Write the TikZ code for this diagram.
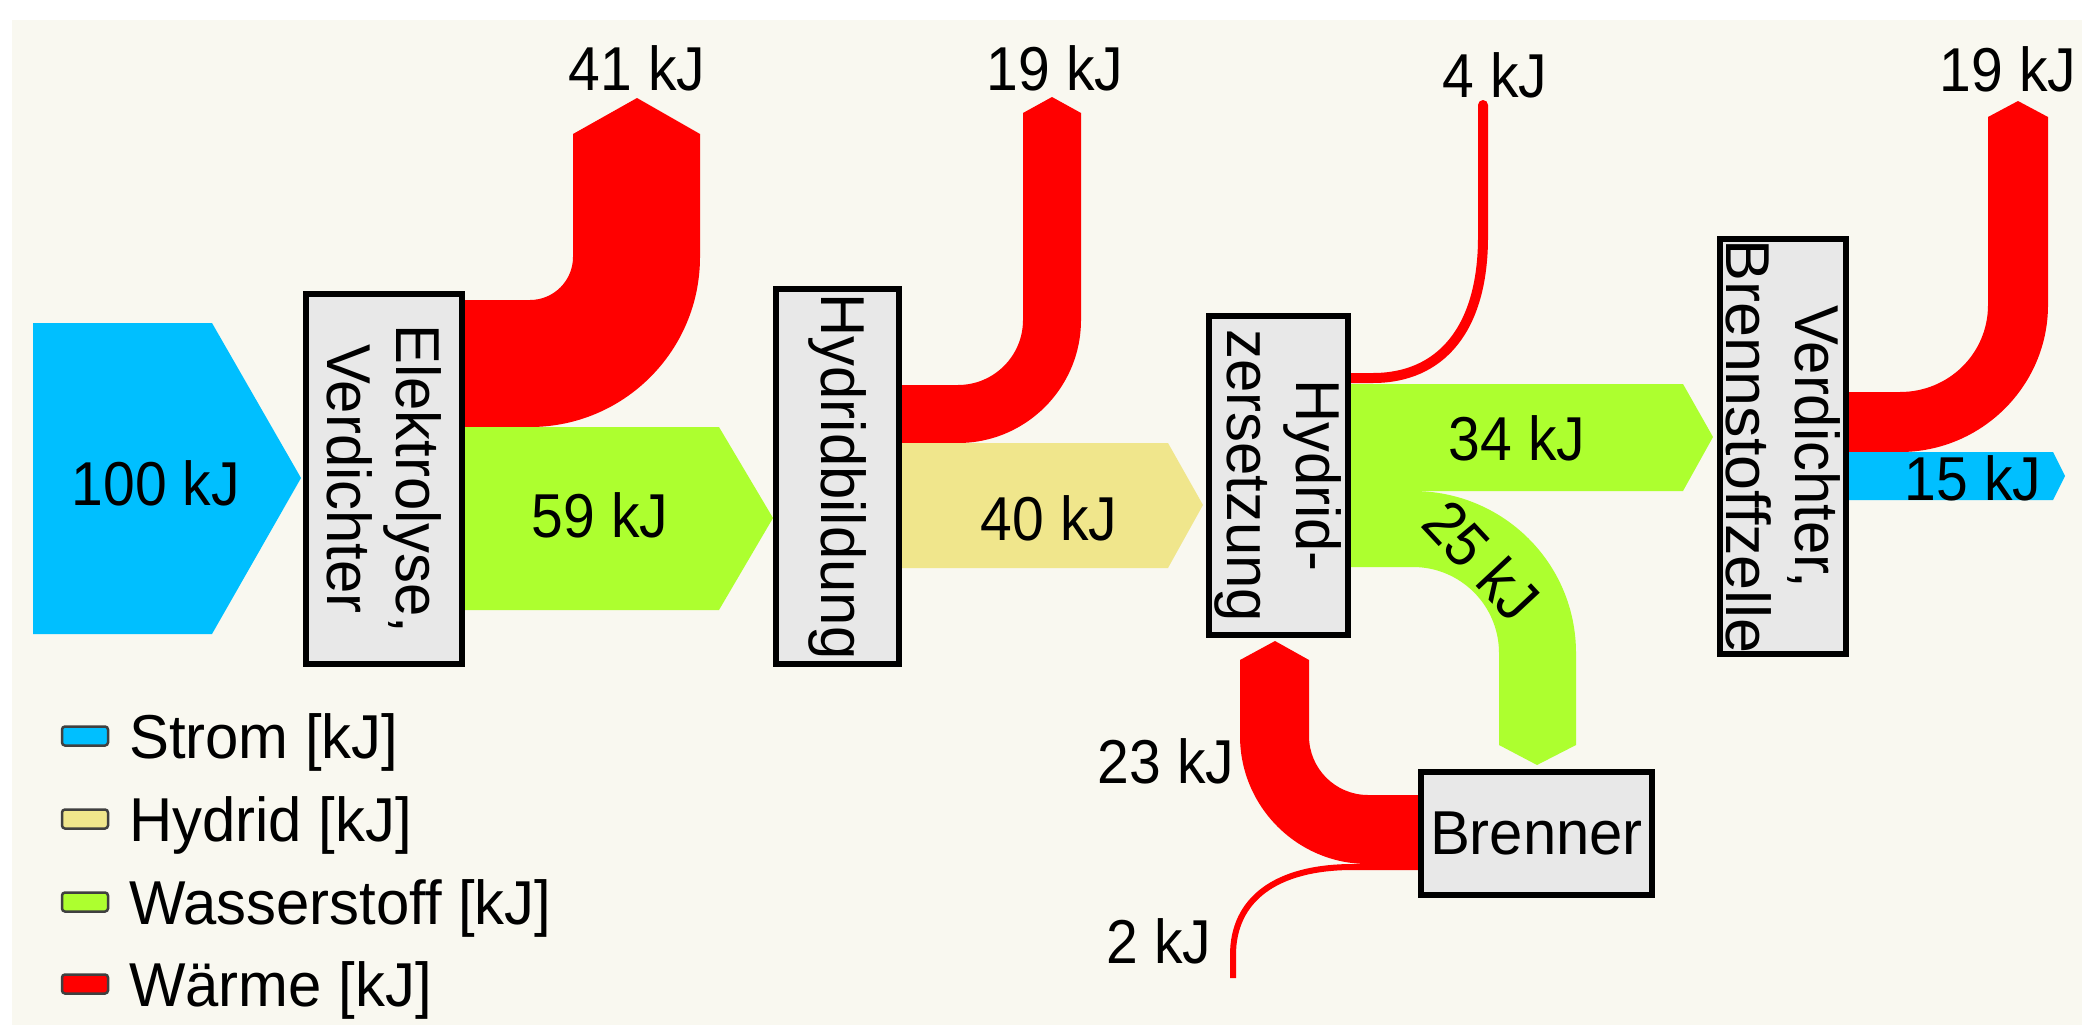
\documentclass[tikz,border=0pt]{standalone}
\usepackage{fontspec}
\setmainfont[FakeStretch=0.92]{Liberation Sans}
\newfontfamily\wordfont[FakeStretch=0.965]{Liberation Sans}
\definecolor{bg}{HTML}{F9F8F0}
\definecolor{strom}{HTML}{00BFFF}
\definecolor{hydrid}{HTML}{F0E68C}
\definecolor{wasser}{HTML}{ADFF2F}
\definecolor{waerme}{HTML}{FF0000}
\definecolor{boxfill}{HTML}{E8E8E8}
\begin{document}
\begin{tikzpicture}[x=1pt,y=-1pt,
  lbl/.style={font=\fontsize{62}{69}\selectfont, inner sep=0pt},
  wlbl/.style={font=\wordfont\fontsize{62}{69}\selectfont, inner sep=0pt},
  box/.style={draw=black, line width=6pt, fill=boxfill, inner sep=0pt, align=center, font=\wordfont\fontsize{62}{69}\selectfont},
  swatch/.style={draw=black!75, line width=2.5pt, rounded corners=3pt, minimum width=46pt, minimum height=19pt, inner sep=0pt}]
\useasboundingbox (0,0) rectangle (2082,1025);
\fill[white] (0,0) rectangle (2082,1025);
\fill[bg] (12,20) rectangle (2082,1025);

% ---- flows ----
% Strom 100
\fill[strom] (33,323) -- (212,323) -- (301,478) -- (212,634) -- (33,634) -- cycle;
% Waerme 41
\fill[waerme] (465,300) -- (530,300) .. controls (553.7,300) and (573,280.7) .. (573,257)
  -- (573,134) -- (637,98) -- (700,134) -- (700,257)
  .. controls (700,350.9) and (623.9,427) .. (530,427) -- (465,427) -- cycle;
% Wasserstoff 59
\fill[wasser] (465,427) -- (719,427) -- (773,518) -- (719,610) -- (465,610) -- cycle;
% Waerme 19 (Hydridbildung)
\fill[waerme] (902,385) -- (958,385) .. controls (993.9,385) and (1023,355.9) .. (1023,320)
  -- (1023,113) -- (1052,97) -- (1081,113) -- (1081,320)
  .. controls (1081,387.9) and (1025.9,443) .. (958,443) -- (902,443) -- cycle;
% Hydrid 40
\fill[hydrid] (902,443) -- (1168,443) -- (1203,505) -- (1168,568) -- (902,568) -- cycle;
% Waerme 4 (thin)
\draw[waerme, line width=10pt, line cap=round] (1351,378) -- (1373,378)
  .. controls (1440,378) and (1483,330) .. (1483,237) -- (1483,105);
% Wasserstoff 34
\fill[wasser] (1351,384) -- (1683,384) -- (1713,437) -- (1683,491) -- (1351,491) -- cycle;
% Wasserstoff 25
\fill[wasser] (1351,491) -- (1413,491) .. controls (1503,491) and (1576,563) .. (1576,653)
  -- (1576,745) -- (1537,765) -- (1499,745) -- (1499,653)
  .. controls (1499,605.5) and (1460.5,567) .. (1413,567) -- (1351,567) -- cycle;
% Waerme 23
\fill[waerme] (1418,795) -- (1368,795) .. controls (1335.4,795) and (1309,768.6) .. (1309,736)
  -- (1309,660) -- (1275,641) -- (1240,660) -- (1240,736)
  .. controls (1240,806.7) and (1297.3,864) .. (1368,864) -- (1418,864) -- cycle;
% Waerme 2 (thin)
\draw[waerme, line width=6pt] (1418,867) -- (1353,867)
  .. controls (1275,867) and (1233,900) .. (1233,955) -- (1233,978);
% Waerme 19 (Brennstoffzelle)
\fill[waerme] (1849,392) -- (1900,392) .. controls (1948.6,392) and (1988,353.6) .. (1988,305)
  -- (1988,117) -- (2018,101) -- (2048,117) -- (2048,305)
  .. controls (2048,386.2) and (1981.2,452) .. (1900,452) -- (1849,452) -- cycle;
% Strom 15
\fill[strom] (1849,452) -- (2053,452) -- (2065,476) -- (2053,500) -- (1849,500) -- cycle;

% ---- boxes ----
\node[box, rotate=-90, minimum width=370pt, minimum height=156pt] (b1) at (384,479) {Elektrolyse,\\Verdichter};
\node[box, rotate=-90, minimum width=375pt, minimum height=123pt] (b2) at (837.5,476.5) {Hydridbildung};
\node[box, rotate=-90, minimum width=319pt, minimum height=139pt] (b3) at (1278.5,475.5) {Hydrid-\\zersetzung};
\node[box, rotate=-90, minimum width=415pt, minimum height=126pt] (b4) at (1783,446.5) {Verdichter,\\\scalebox{1.05}[1]{Brennstoffzelle}};
\node[box, minimum width=231pt, minimum height=123pt] (br) at (1536.5,833) {Brenner};

% ---- flow labels ----
\node[lbl, anchor=base] (t100) at (156,505) {100 kJ};
\node[lbl, anchor=base] (t59) at (600,537) {59 kJ};
\node[lbl, anchor=base] (t40) at (1049,540) {40 kJ};
\node[lbl, anchor=base] (t34) at (1517,460) {34 kJ};
\node[lbl, anchor=base] (t15) at (1973,500) {15 kJ};
\node[lbl, anchor=base] (t41) at (637,90) {41 kJ};
\node[lbl, anchor=base] (t19a) at (1055,90) {19 kJ};
\node[lbl, anchor=base] (t4) at (1495,97) {4 kJ};
\node[lbl, anchor=base] (t19b) at (2008,92) {19 kJ};
\node[lbl, anchor=base] (t23) at (1166,783) {23 kJ};
\node[lbl, anchor=base] (t2) at (1159,963) {2 kJ};
\node[lbl, rotate=-47] (t25) at (1482,560) {25 kJ};

% ---- legend ----
\node[swatch, fill=strom] (s1) at (85,736) {};
\node[swatch, fill=hydrid] (s2) at (85,819) {};
\node[swatch, fill=wasser] (s3) at (85,902) {};
\node[swatch, fill=waerme] (s4) at (85,984) {};
\node[wlbl, anchor=base west] (l1) at (129,758) {Strom [kJ]};
\node[wlbl, anchor=base west] (l2) at (129,841) {Hydrid [kJ]};
\node[wlbl, anchor=base west] (l3) at (129,924) {Wasserstoff [kJ]};
\node[wlbl, anchor=base west] (l4) at (129,1006) {Wärme [kJ]};
\end{tikzpicture}
\end{document}
